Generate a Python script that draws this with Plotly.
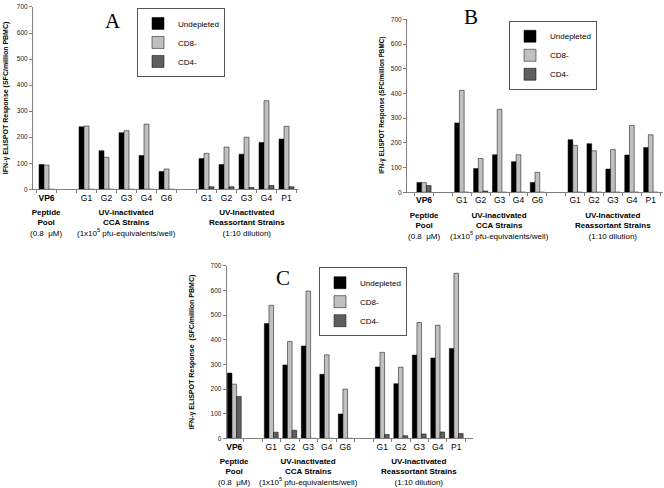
import plotly.graph_objects as go

# ---------------- data ----------------
tick_labels = ["<b>VP6</b>", "", "G1", "G2", "G3", "G4", "G6", "", "G1", "G2", "G3", "G4", "P1"]
series_names = ["Undepleted", "CD8-", "CD4-"]

A_undepleted = [95, None, 240, 148, 217, 130, 68, None, 118, 95, 135, 180, 193]
A_cd8 = [93, None, 243, 123, 225, 250, 78, None, 138, 162, 200, 340, 242]
A_cd4 = [0, None, 0, 0, 0, 0, 0, None, 10, 10, 7, 15, 10]

B_undepleted = [40, None, 281, 96, 152, 124, 40, None, 213, 197, 94, 151, 181]
B_cd8 = [39, None, 413, 137, 336, 152, 81, None, 190, 168, 173, 271, 233]
B_cd4 = [27, None, 0, 5, 0, 0, 0, None, 0, 0, 0, 0, 0]

C_undepleted = [265, None, 466, 298, 375, 260, 99, None, 290, 222, 338, 326, 365]
C_cd8 = [220, None, 540, 393, 598, 339, 200, None, 349, 289, 470, 459, 670]
C_cd4 = [170, None, 25, 33, 0, 0, 0, None, 16, 11, 18, 26, 20]

group_vp6 = "<b>Peptide</b><br><b>Pool</b><br>(0.8  \u03bcM)"
group_cca = "<b>UV-inactivated</b><br><b>CCA Strains</b><br>(1x10<sup>5</sup> pfu-equivalents/well)"
group_reas = "<b>UV-Inactivated</b><br><b>Reassortant Strains</b><br>(1:10 dilution)"
ytitle_ab = "IFN-\u03b3 ELISPOT Response (SFC/million PBMC)"
ytitle_c = "IFN-\u03b3 ELISPOT Response  (SFC/million PBMC)"

# ---------------- styling ----------------
W, H = 664, 488
def px(x): return x / W
def py(y): return 1 - y / H

colors = ["#000000", "#c0c0c0", "#5f5f5f"]
SANS = "Liberation Sans, Arial, sans-serif"
SERIF = "Liberation Serif, Times New Roman, serif"

panels = [
    dict(name="A", data=[A_undepleted, A_cd8, A_cd4], ax="", xdom=(33, 298), ydom=(188, 3),
         xr=(-0.675, 12.575), letter=(113, 17), legend=(137, 4), ytitle=ytitle_ab, ytx=6, ytfs=7),
    dict(name="B", data=[B_undepleted, B_cd8, B_cd4], ax="2", xdom=(407, 663), ydom=(191, 15.7),
         xr=(-0.9, 12.65), letter=(471, 13), legend=(509, 17), ytitle=ytitle_ab, ytx=382, ytfs=6.3),
    dict(name="C", data=[C_undepleted, C_cd8, C_cd4], ax="3", xdom=(226.7, 472.7), ydom=(440.7, 265.7),
         xr=(-0.41, 12.89), letter=(283, 278), legend=(319, 267), ytitle=ytitle_c, ytx=192, ytfs=7),
]

fig = go.Figure()
xs = list(range(len(tick_labels)))
tick_vals = [i for i, t in enumerate(tick_labels) if t]
tick_text = [t for t in tick_labels if t]
annotations = []
layout = {}
for i, p in enumerate(panels):
    legname = "legend" if i == 0 else f"legend{i+1}"
    for s, (nm, vals) in enumerate(zip(series_names, p["data"])):
        fig.add_trace(go.Bar(
            x=xs, y=vals, name=nm,
            marker=dict(color=colors[s], line=dict(color="#000000", width=0.5)),
            xaxis="x" + p["ax"], yaxis="y" + p["ax"], legend=legname,
            showlegend=True,
        ))
    xa = "xaxis" + p["ax"]
    ya = "yaxis" + p["ax"]
    layout[xa] = dict(
        domain=[px(p["xdom"][0]), px(p["xdom"][1])], range=list(p["xr"]),
        anchor="y" + p["ax"], showline=True, linecolor="#808080", linewidth=1,
        tickmode="array", tickvals=tick_vals, ticktext=tick_text, ticks="",
        tickfont=dict(family=SANS, size=8.5, color="#000"), showgrid=False, zeroline=False,
        minor=dict(tickmode="linear", tick0=0.5, dtick=1, ticks="outside", ticklen=3,
                   tickcolor="#808080", showgrid=False),
        fixedrange=True,
    )
    layout[ya] = dict(
        domain=[py(p["ydom"][0]), py(p["ydom"][1])], range=[0, 700],
        anchor="x" + p["ax"], showline=True, linecolor="#808080", linewidth=1,
        tickmode="linear", tick0=0, dtick=100, ticks="outside", ticklen=3, tickcolor="#808080",
        tickfont=dict(family=SANS, size=6.5, color="#222"), showgrid=False, zeroline=False,
        fixedrange=True,
    )
    layout[legname] = dict(
        x=px(p["legend"][0]), y=py(p["legend"][1]), xanchor="left", yanchor="top",
        xref="paper", yref="paper",
        bordercolor="#555", borderwidth=1, bgcolor="#fff",
        font=dict(family=SANS, size=8, color="#000"), tracegroupgap=0,
    )
    base = p["ydom"][0]
    xr = "x" + p["ax"]
    for xc, txt in [(0, group_vp6), (4, group_cca), (10, group_reas)]:
        annotations.append(dict(x=xc, xref=xr, y=py(base + 17), yref="paper",
                                text=txt, showarrow=False, xanchor="center", yanchor="top",
                                font=dict(family=SANS, size=8, color="#000"), align="center"))
    annotations.append(dict(x=px(p["letter"][0]), y=py(p["letter"][1]), xref="paper", yref="paper",
                            text=p["name"], showarrow=False, xanchor="center", yanchor="middle",
                            font=dict(family=SERIF, size=21, color="#000")))
    annotations.append(dict(x=px(p["ytx"]), y=(py(p["ydom"][0]) + py(p["ydom"][1])) / 2,
                            xref="paper", yref="paper", text="<b>" + p["ytitle"] + "</b>",
                            textangle=-90, showarrow=False, xanchor="center", yanchor="middle",
                            font=dict(family=SANS, size=p["ytfs"], color="#000")))

fig.update_layout(
    width=W, height=H, margin=dict(l=0, r=0, t=0, b=0),
    paper_bgcolor="#fff", plot_bgcolor="#fff",
    barmode="group", bargap=0.25, bargroupgap=0,
    annotations=annotations, **layout,
)
fig.write_html(
    "out.html",
    config={"displayModeBar": False},
    post_script="document.body.style.margin='0';document.body.style.overflow='hidden';",
)
